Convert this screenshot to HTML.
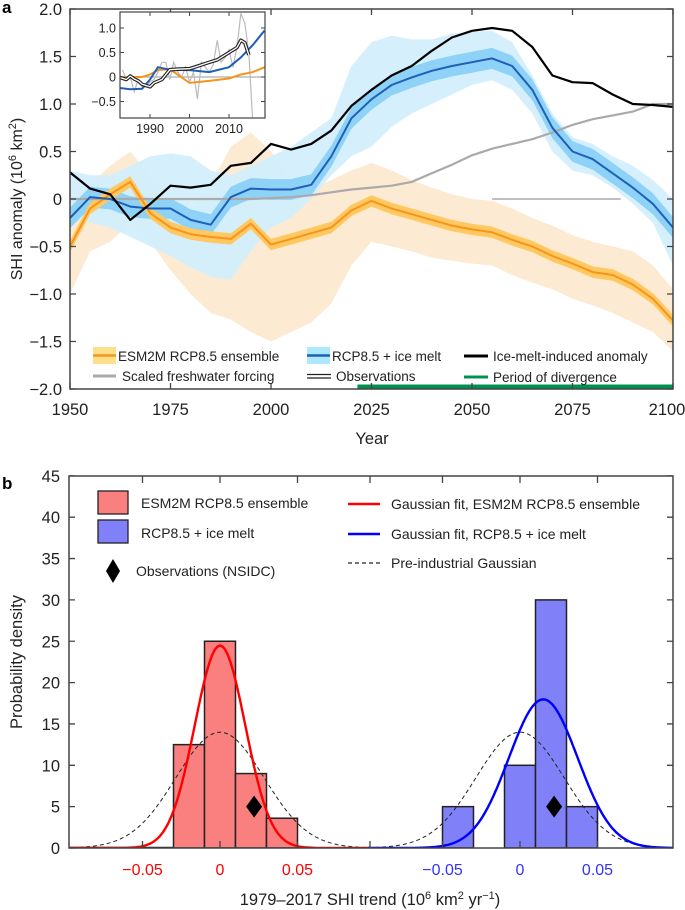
<!DOCTYPE html>
<html><head><meta charset="utf-8"><style>
html,body{margin:0;padding:0;background:#fff;}
svg{display:block;font-family:"Liberation Sans",Arial,sans-serif;}
</style></head><body>
<svg id="fig" width="685" height="910" viewBox="0 0 685 910" xmlns="http://www.w3.org/2000/svg"></svg>
<script>
// ---------- Panel a data (5-year steps) ----------
const years = [1950,1955,1960,1965,1970,1975,1980,1985,1990,1995,2000,2005,2010,2015,2020,2025,2030,2035,2040,2045,2050,2055,2060,2065,2070,2075,2080,2085,2090,2095,2100];
const orangeMean = [-0.5,-0.1,0.05,0.18,-0.15,-0.3,-0.37,-0.4,-0.42,-0.26,-0.48,-0.42,-0.36,-0.3,-0.12,-0.02,-0.1,-0.16,-0.22,-0.28,-0.32,-0.35,-0.43,-0.5,-0.6,-0.68,-0.77,-0.8,-0.9,-1.05,-1.28];
const orangeUpper = [-0.1,0.15,0.35,0.5,0.25,-0.05,-0.1,0.15,0.55,0.7,0.5,0.2,0.1,0.2,0.3,0.38,0.3,0.2,0.12,0.05,0.0,-0.02,-0.1,-0.2,-0.28,-0.38,-0.45,-0.5,-0.55,-0.7,-0.95];
const orangeLower = [-1.0,-0.55,-0.45,-0.25,-0.45,-0.75,-1.0,-1.2,-1.27,-1.4,-1.5,-1.4,-1.3,-1.1,-0.7,-0.45,-0.5,-0.55,-0.62,-0.65,-0.68,-0.7,-0.8,-0.88,-0.95,-1.05,-1.12,-1.2,-1.3,-1.4,-1.6];
const blueMean = [-0.2,0.02,0.0,-0.08,-0.1,-0.1,-0.22,-0.27,0.02,0.11,0.1,0.1,0.15,0.45,0.85,1.05,1.2,1.28,1.35,1.4,1.44,1.48,1.4,1.15,0.75,0.5,0.42,0.27,0.12,-0.05,-0.3];
const blueUpper = [0.3,0.25,0.25,0.35,0.45,0.48,0.45,0.3,0.25,0.35,0.45,0.55,0.7,0.85,1.4,1.65,1.72,1.68,1.68,1.74,1.76,1.77,1.65,1.3,0.9,0.65,0.58,0.45,0.35,0.2,0.0];
const blueLower = [-0.2,-0.25,-0.3,-0.4,-0.5,-0.6,-0.72,-0.82,-0.85,-0.55,-0.3,-0.2,0.0,0.25,0.45,0.55,0.76,0.9,1.0,1.1,1.2,1.25,1.15,0.9,0.5,0.3,0.25,0.12,-0.05,-0.25,-0.7];
const iceMelt = [0.28,0.11,0.05,-0.22,-0.05,0.14,0.12,0.15,0.35,0.38,0.58,0.52,0.58,0.72,0.98,1.15,1.3,1.4,1.56,1.7,1.77,1.8,1.77,1.6,1.3,1.23,1.22,1.1,1.0,0.99,0.97];
const freshwater = [0,0,0,0,0,0,0,0,0,0,0.01,0.02,0.04,0.07,0.1,0.12,0.14,0.18,0.27,0.36,0.46,0.53,0.58,0.63,0.7,0.78,0.84,0.88,0.92,1.0,1.0];
const orangeHalf = 0.06, blueHalf = 0.11;
const yTicksA = [2.0,1.5,1.0,0.5,0,-0.5,-1.0,-1.5,-2.0];
const yTickLabelsA = ["2.0","1.5","1.0","0.5","0","\u22120.5","\u22121.0","\u22121.5","\u22122.0"];
const xTicksA = [1950,1975,2000,2025,2050,2075,2100];
const divergence = [2021.5,2100];
const zeroRef = [2055,2087];
// inset
const insetYears = [1982,1985,1988,1990,1992,1995,2000,2005,2010,2013,2016,2019];
const insetBlue = [-0.22,-0.25,-0.24,-0.05,0.2,0.15,0.14,0.1,0.2,0.4,0.65,0.95];
const insetOrange = [0,0,0,0.05,0.14,0.16,-0.12,-0.08,-0.03,0.05,0.1,0.2];
const obsYears = [1982,1984,1985,1986,1987,1988,1990,1991,1993,1995,1997,2000,2002,2005,2007,2009,2010,2012,2013,2014,2015];
const obsSmooth = [0,-0.05,0.02,-0.04,-0.08,-0.15,-0.2,-0.12,-0.05,0.15,0.16,0.17,0.22,0.3,0.35,0.45,0.5,0.6,0.75,0.7,0.45];
const rawYears = [1983,1984,1985,1986,1987,1988,1989,1990,1991,1992,1993,1994,1995,1996,1997,1998,1999,2000,2001,2002,2003,2004,2005,2006,2007,2008,2009,2010,2011,2012,2013,2014,2015,2016];
const rawObs = [0.15,-0.05,0.0,-0.3,-0.05,-0.2,-0.2,-0.1,-0.05,0.1,0.3,0.3,-0.05,0.3,0.1,0.0,0.2,-0.1,0.1,-0.45,0.3,0.2,0.1,0.25,0.75,0.3,0.4,0.55,0.2,0.6,1.3,1.1,0.5,-0.9];
const insetXTicks = [1990,2000,2010];
const insetYTicks = [1.0,0.5,0,-0.5];
const insetYLabels = ["1.0","0.5","0","\u22120.5"];
// ---------- Panel b data ----------
const redBinEdges = [-0.09,-0.07,-0.05,-0.03,-0.01,0.01,0.03,0.05];
const redCounts = [0,0,0,12.5,25,9,3.6];
const blueBinEdges = [-0.05,-0.03,-0.01,0.01,0.03,0.05,0.07,0.09];
const blueCounts = [5,0,10,30,5,0,0];
const redFit = [0,0.0163];      // mu, sigma
const blueFit = [0.015,0.0222];
const preFit = [0,0.0285];
const obsTrend = [0.022,5];
const yTicksB = [0,5,10,15,20,25,30,35,40,45];
const xTicksB = [-0.05,0,0.05];
const xTickLabelsB = ["\u22120.05","0","0.05"];

// ---------- helpers ----------
const NS="http://www.w3.org/2000/svg";
const svg=document.getElementById('fig');
function mk(tag,attrs,parent){const e=document.createElementNS(NS,tag);for(const k in attrs)e.setAttribute(k,attrs[k]);(parent||svg).appendChild(e);return e;}
function txt(s,x,y,size,anchor,fill,parent){const e=mk('text',{x:x,y:y,'font-size':size,'text-anchor':anchor||'middle',fill:fill||'#222'},parent);e.textContent=s;return e;}
const AX0=70,AX1=673,AY0=9,AY1=389;
const xA=yr=>AX0+(yr-1950)*(AX1-AX0)/150;
const yA=v=>199-v*95;
function pts(xs,vs,fx,fy){return xs.map((x,i)=>fx(x).toFixed(1)+','+fy(vs[i]).toFixed(1)).join(' ');}
function band(xs,up,lo,fx,fy){return pts(xs,up,fx,fy)+' '+xs.slice().reverse().map((x,i)=>fx(x).toFixed(1)+','+fy(lo[lo.length-1-i]).toFixed(1)).join(' ');}

const defs=mk('defs',{});
const cpA=mk('clipPath',{id:'clipA'},defs);mk('rect',{x:AX0,y:AY0,width:AX1-AX0,height:AY1-AY0},cpA);
const cpI=mk('clipPath',{id:'clipI'},defs);mk('rect',{x:120,y:12,width:145,height:106},cpI);
const cpB=mk('clipPath',{id:'clipB'},defs);mk('rect',{x:69,y:476,width:604,height:372},cpB);

let e;
e=txt('a',2,13,17,'start','#000');e.setAttribute('font-weight','bold');



const gA=mk('g',{'clip-path':'url(#clipA)'});


e=mk('polygon',{points:band(years,orangeUpper,orangeLower,xA,yA),fill:'#fdead3'},gA);


e=mk('polygon',{points:band(years,blueUpper,blueLower,xA,yA),fill:'#d3effc','fill-opacity':'0.95'},gA);


e=mk('polygon',{points:band(years,blueMean.map(v=>v+blueHalf),blueMean.map(v=>v-blueHalf),xA,yA),fill:'#8ed2f8'},gA);


e=mk('polygon',{points:band(years,orangeMean.map(v=>v+orangeHalf),orangeMean.map(v=>v-orangeHalf),xA,yA),fill:'#ffc860'},gA);


e=mk('line',{x1:xA(zeroRef[0]),x2:xA(zeroRef[1]),y1:yA(0),y2:yA(0),stroke:'#999','stroke-width':1.3},gA);


e=mk('polyline',{points:pts(years,freshwater,xA,yA),fill:'none',stroke:'#aaa','stroke-width':2.2},gA);


e=mk('polyline',{points:pts(years,orangeMean,xA,yA),fill:'none',stroke:'#f7941d','stroke-width':2,'stroke-linejoin':'round'},gA);


e=mk('polyline',{points:pts(years,blueMean,xA,yA),fill:'none',stroke:'#1f5fb8','stroke-width':2,'stroke-linejoin':'round'},gA);


e=mk('polyline',{points:pts(years,iceMelt,xA,yA),fill:'none',stroke:'#000','stroke-width':2.2,'stroke-linejoin':'round'},gA);



e=mk('line',{x1:xA(divergence[0]),x2:xA(divergence[1]),y1:AY1-2,y2:AY1-2,stroke:'#009150','stroke-width':5});



e=mk('rect',{x:AX0,y:AY0,width:AX1-AX0,height:AY1-AY0,fill:'none',stroke:'#444','stroke-width':1.5});


yTicksA.forEach((v,i)=>{
  const y=yA(v);
  const t=mk('path',{d:`M${AX0},${y}h6M${AX1},${y}h-6`,stroke:'#444','stroke-width':1.3});
  
  
  const l=txt(yTickLabelsA[i],62,y+6,16.5,'end','#222');
  
  
});
xTicksA.forEach(yr=>{
  const x=xA(yr);
  const t=mk('path',{d:`M${x},${AY1}v-6M${x},${AY0}v6`,stroke:'#444','stroke-width':1.3});
  
  
  const lx = yr===2100 ? 667 : x;
  const l=txt(String(yr),lx,415,16.5,'middle','#222');
  
  
});
e=txt('Year',372,444,16.5,'middle','#222');


e=mk('text',{x:0,y:0,'font-size':16,'text-anchor':'middle',fill:'#222',transform:'translate(22,199) rotate(-90)'});
e.innerHTML='SHI anomaly (10<tspan dy="-6" font-size="11">6</tspan><tspan dy="6"> km</tspan><tspan dy="-6" font-size="11">2</tspan><tspan dy="6">)</tspan>';



const legA=mk('g',{'font-size':13.5,fill:'#222'});


mk('rect',{x:93,y:347,width:23,height:17,fill:'#ffe08a'},legA);mk('line',{x1:93,x2:116,y1:355.5,y2:355.5,stroke:'#f7941d','stroke-width':2.5},legA);
txt('ESM2M RCP8.5 ensemble',118,361,13.5,'start','#222',legA);
mk('rect',{x:307,y:347,width:23,height:17,fill:'#aee8fb'},legA);mk('line',{x1:307,x2:330,y1:355.5,y2:355.5,stroke:'#1f5fb8','stroke-width':2.5},legA);
txt('RCP8.5 + ice melt',332,361,13.5,'start','#222',legA);
mk('line',{x1:464,x2:488,y1:356,y2:356,stroke:'#000','stroke-width':3},legA);
txt('Ice-melt-induced anomaly',493,361,13.5,'start','#222',legA);
mk('line',{x1:93,x2:116,y1:376,y2:376,stroke:'#aaa','stroke-width':3},legA);
txt('Scaled freshwater forcing',122,381,13.5,'start','#222',legA);
mk('path',{d:'M307,374.5h24M307,378h24',stroke:'#222','stroke-width':1.3},legA);
txt('Observations',336,381,13.5,'start','#222',legA);
mk('line',{x1:464,x2:488,y1:377,y2:377,stroke:'#009150','stroke-width':3},legA);
txt('Period of divergence',493,382,13.5,'start','#222',legA);

const IX0=120,IX1=265,IY0=12,IY1=118;
const xI=yr=>IX0+(yr-1982.4)*3.95;
const yI=v=>77-v*49;
const gI=mk('g',{});


mk('rect',{x:IX0,y:IY0,width:IX1-IX0,height:IY1-IY0,fill:'#fff'},gI);
const gIc=mk('g',{'clip-path':'url(#clipI)'},gI);
mk('line',{x1:IX0,x2:IX1,y1:yI(0),y2:yI(0),stroke:'#999','stroke-width':1},gIc);
e=mk('polyline',{points:pts(rawYears,rawObs,xI,yI),fill:'none',stroke:'#bbb','stroke-width':1.2},gIc);


e=mk('polyline',{points:pts(insetYears,insetOrange,xI,yI),fill:'none',stroke:'#f7941d','stroke-width':2},gIc);


e=mk('polyline',{points:pts(insetYears,insetBlue,xI,yI),fill:'none',stroke:'#1f5fb8','stroke-width':2},gIc);


mk('polyline',{points:pts(obsYears,obsSmooth,xI,yI),fill:'none',stroke:'#222','stroke-width':3.6,'stroke-linejoin':'round'},gIc);
e=mk('polyline',{points:pts(obsYears,obsSmooth,xI,yI),fill:'none',stroke:'#fff','stroke-width':1.3,'stroke-linejoin':'round'},gIc);


mk('rect',{x:IX0,y:IY0,width:IX1-IX0,height:IY1-IY0,fill:'none',stroke:'#444','stroke-width':1.2},gI);
insetXTicks.forEach(yr=>{const x=xI(yr);mk('path',{d:`M${x},${IY1}v-4M${x},${IY0}v4`,stroke:'#444'},gI);
  const l=txt(String(yr),x,133,12.5,'middle','#222',gI);
  
  });
insetYTicks.forEach((v,i)=>{const y=yI(v);mk('path',{d:`M${IX0},${y}h4M${IX1},${y}h-4`,stroke:'#444'},gI);
  const l=txt(insetYLabels[i],IX0-4,y+4.5,12.5,'end','#222',gI);
  
  });

// ---------- Panel b ----------
const BX0=69,BX1=673,BY0=476,BY1=848,BMID=370;
const xL=v=>220+v*1550;
const xR=v=>520+v*1550;
const yB=d=>BY1-d*8.27;
e=txt('b',2,489,17,'start','#000');e.setAttribute('font-weight','bold');


const gB=mk('g',{'clip-path':'url(#clipB)'});


function bars(edges,counts,fx,fill,name){
  counts.forEach((c,i)=>{
    const x0=fx(edges[i]),x1=fx(edges[i+1]);
    const r=mk('rect',{x:x0,y:yB(c),width:x1-x0,height:BY1-yB(c),fill:fill,stroke:'#222','stroke-width':1.5},gB);
    
    
  });
}
mk('line',{x1:BX0,x2:xL(-0.03),y1:BY1-0.5,y2:BY1-0.5,stroke:'#222','stroke-width':1.5},gB);
bars(redBinEdges,redCounts,xL,'#fa8080','red-histogram-bar');
bars(blueBinEdges,blueCounts,xR,'#8080f8','blue-histogram-bar');
function gauss(fit,lo,hi,fx){const p=[];const pk=1/(fit[1]*Math.sqrt(2*Math.PI));for(let v=lo;v<=hi+1e-9;v+=0.001){p.push(fx(v).toFixed(1)+','+yB(pk*Math.exp(-0.5*((v-fit[0])/fit[1])**2)).toFixed(1));}return p.join(' ');}
e=mk('polyline',{points:gauss(preFit,-0.1,0.097,xL),fill:'none',stroke:'#222','stroke-width':1,'stroke-dasharray':'4,3'},gB);


e=mk('polyline',{points:gauss(preFit,-0.098,0.1,xR),fill:'none',stroke:'#222','stroke-width':1,'stroke-dasharray':'4,3'},gB);


e=mk('polyline',{points:gauss(redFit,-0.1,0.097,xL),fill:'none',stroke:'#f00','stroke-width':2.4},gB);


e=mk('polyline',{points:gauss(blueFit,-0.098,0.1,xR),fill:'none',stroke:'#00f','stroke-width':2.4},gB);


[xL,xR].forEach((fx,i)=>{
  const cx=fx(obsTrend[0]),cy=yB(obsTrend[1]);
  const d=mk('polygon',{points:`${cx},${cy-11} ${cx+8},${cy} ${cx},${cy+11} ${cx-8},${cy}`,fill:'#000'},gB);
  
  
});
e=mk('rect',{x:BX0,y:BY0,width:BX1-BX0,height:BY1-BY0,fill:'none',stroke:'#444','stroke-width':1.5});


yTicksB.forEach(d=>{
  const y=yB(d);
  const t=mk('path',{d:`M${BX0},${y}h6M${BX1},${y}h-6`,stroke:'#444','stroke-width':1.3});
  
  
  const l=txt(String(d),60,y+6,16.5,'end','#222');
  
  
});
const midTick=mk('path',{d:`M${BMID},${BY1}v-7M${BMID},${BY0}v7`,stroke:'#444','stroke-width':1.3});


xTicksB.forEach((v,i)=>{
  [[xL,'#f00'],[xR,'#33f']].forEach(([fx,col])=>{
    const x=fx(v);
    const t=mk('path',{d:`M${x},${BY1}v-7M${x},${BY0}v7`,stroke:'#444','stroke-width':1.3});
    
    
    const l=txt(xTickLabelsB[i],x,875,16,'middle',col);
    
    
  });
});
e=mk('text',{x:370,y:905,'font-size':16.5,'text-anchor':'middle',fill:'#222'});
e.innerHTML='1979\u20132017 SHI trend (10<tspan dy="-6" font-size="11">6</tspan><tspan dy="6"> km</tspan><tspan dy="-6" font-size="11">2</tspan><tspan dy="6"> yr</tspan><tspan dy="-6" font-size="11">\u22121</tspan><tspan dy="6">)</tspan>';


e=mk('text',{x:0,y:0,'font-size':16.5,'text-anchor':'middle',fill:'#222',transform:'translate(22,662) rotate(-90)'});
e.textContent='Probability density';



const legB=mk('g',{});


mk('rect',{x:98,y:491,width:30,height:23,fill:'#fa8080',stroke:'#222','stroke-width':1.3},legB);
txt('ESM2M RCP8.5 ensemble',141,508,14,'start','#222',legB);
mk('rect',{x:98,y:520,width:30,height:23,fill:'#8080f8',stroke:'#222','stroke-width':1.3},legB);
txt('RCP8.5 + ice melt',141,538,14,'start','#222',legB);
mk('polygon',{points:'113,559 120,571 113,583 106,571',fill:'#000'},legB);
txt('Observations (NSIDC)',136,576,14,'start','#222',legB);
mk('line',{x1:348,x2:380,y1:504,y2:504,stroke:'#f00','stroke-width':2.5},legB);
txt('Gaussian fit, ESM2M RCP8.5 ensemble',391,509,14,'start','#222',legB);
mk('line',{x1:348,x2:380,y1:534,y2:534,stroke:'#00f','stroke-width':2.5},legB);
txt('Gaussian fit, RCP8.5 + ice melt',391,539,14,'start','#222',legB);
mk('line',{x1:348,x2:380,y1:563,y2:563,stroke:'#222','stroke-width':1.3,'stroke-dasharray':'4,3'},legB);
txt('Pre-industrial Gaussian',391,568,14,'start','#222',legB);
</script>
</body></html>
